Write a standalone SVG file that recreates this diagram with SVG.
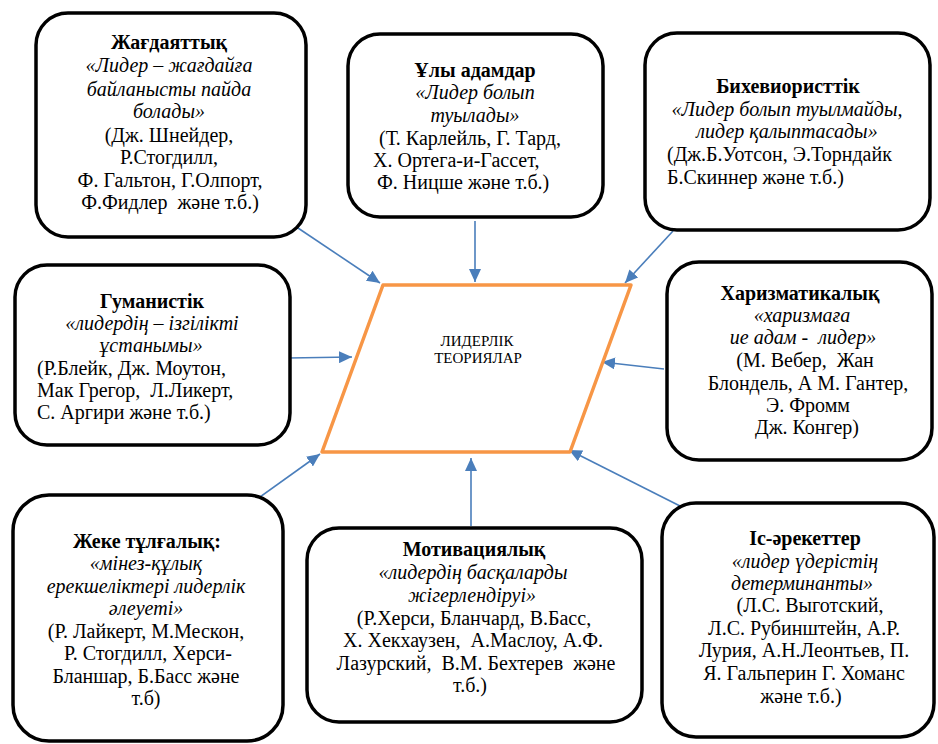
<svg xmlns="http://www.w3.org/2000/svg" width="938" height="744" viewBox="0 0 938 744">
<defs>
<style>
.box{fill:#fff;stroke:#000;stroke-width:3.5}
.b{font-weight:bold}
.i{font-style:italic}
.c{stroke:#4A7EBB;stroke-width:1.6;fill:none;marker-end:url(#ah)}
</style>
<marker id="ah" markerUnits="userSpaceOnUse" markerWidth="14" markerHeight="12" refX="13" refY="6" orient="auto">
<path d="M0,0 L13,6 L0,12 Z" fill="#4A7EBB"/>
</marker>
</defs>
<rect width="938" height="744" fill="#fff"/>

<g id="connectors">
<line class="c" x1="295" y1="226" x2="380" y2="283"/>
<line class="c" x1="475" y1="221" x2="475" y2="282"/>
<line class="c" x1="673" y1="231" x2="625" y2="283"/>
<line class="c" x1="288" y1="358" x2="352" y2="357"/>
<line class="c" x1="664" y1="369" x2="602" y2="362"/>
<line class="c" x1="253" y1="502" x2="320" y2="454"/>
<line class="c" x1="471" y1="526" x2="471" y2="458"/>
<line class="c" x1="682" y1="507" x2="569" y2="450"/>
</g>

<g id="center">
<polygon points="383,285 631,285 570,452 322,452" fill="#fff" stroke="#F79646" stroke-width="3.5" stroke-linejoin="round"/>
<text x="477" y="346" style="font-family:'Liberation Serif',serif;font-size:15px" text-anchor="middle">ЛИДЕРЛІК</text>
<text x="478" y="363" style="font-family:'Liberation Serif',serif;font-size:15px" text-anchor="middle">ТЕОРИЯЛАР</text>
</g>

<g id="n1">
<rect class="box" x="36" y="13" width="270" height="224" rx="32"/>
<text class="b" x="169" y="49" style="font-family:'Liberation Serif',serif;font-size:20px" text-anchor="middle">Жағдаяттық</text>
<text class="i" x="169" y="72" style="font-family:'Liberation Serif',serif;font-size:20px" text-anchor="middle">«Лидер – жағдайға</text>
<text class="i" x="169" y="96" style="font-family:'Liberation Serif',serif;font-size:20px" text-anchor="middle">байланысты пайда</text>
<text class="i" x="169" y="118" style="font-family:'Liberation Serif',serif;font-size:20px" text-anchor="middle">болады»</text>
<text x="169" y="142" style="font-family:'Liberation Serif',serif;font-size:20px" text-anchor="middle">(Дж. Шнейдер,</text>
<text x="169" y="164" style="font-family:'Liberation Serif',serif;font-size:20px" text-anchor="middle">Р.Стогдилл,</text>
<text x="170" y="187" style="font-family:'Liberation Serif',serif;font-size:20px" text-anchor="middle">Ф. Гальтон, Г.Олпорт,</text>
<text x="170" y="209" style="font-family:'Liberation Serif',serif;font-size:20px" text-anchor="middle">Ф.Фидлер&#160; және т.б.)</text>
</g>

<g id="n2">
<rect class="box" x="348" y="34" width="255" height="183" rx="32"/>
<text class="b" x="475" y="77" style="font-family:'Liberation Serif',serif;font-size:20px" text-anchor="middle">Ұлы адамдар</text>
<text class="i" x="475" y="99" style="font-family:'Liberation Serif',serif;font-size:20px" text-anchor="middle">«Лидер болып</text>
<text class="i" x="475" y="122" style="font-family:'Liberation Serif',serif;font-size:20px" text-anchor="middle">туылады»</text>
<text x="470" y="145" style="font-family:'Liberation Serif',serif;font-size:20px" text-anchor="middle">(Т. Карлейль, Г. Тард,</text>
<text x="373" y="167" style="font-family:'Liberation Serif',serif;font-size:20px">Х. Ортега-и-Гассет,</text>
<text x="377" y="189" style="font-family:'Liberation Serif',serif;font-size:20px">Ф. Ницше және т.б.)</text>
</g>

<g id="n3">
<rect class="box" x="645" y="33" width="285" height="197" rx="32"/>
<text class="b" x="788" y="93" style="font-family:'Liberation Serif',serif;font-size:20px" text-anchor="middle">Бихевиористтік</text>
<text class="i" x="787" y="116" style="font-family:'Liberation Serif',serif;font-size:20px" text-anchor="middle">«Лидер болып туылмайды,</text>
<text class="i" x="787" y="138" style="font-family:'Liberation Serif',serif;font-size:20px" text-anchor="middle">лидер қалыптасады»</text>
<text x="667" y="161" style="font-family:'Liberation Serif',serif;font-size:20px">(Дж.Б.Уотсон, Э.Торндайк</text>
<text x="667" y="184" style="font-family:'Liberation Serif',serif;font-size:20px">Б.Скиннер және т.б.)</text>
</g>

<g id="n4">
<rect class="box" x="15" y="265" width="275" height="180" rx="32"/>
<text class="b" x="152" y="308" style="font-family:'Liberation Serif',serif;font-size:20px" text-anchor="middle">Гуманистік</text>
<text class="i" x="152" y="330" style="font-family:'Liberation Serif',serif;font-size:20px" text-anchor="middle">«лидердің – ізгілікті</text>
<text class="i" x="151" y="352" style="font-family:'Liberation Serif',serif;font-size:20px" text-anchor="middle">ұстанымы»</text>
<text x="37" y="375" style="font-family:'Liberation Serif',serif;font-size:20px">(Р.Блейк, Дж. Моутон,</text>
<text x="37" y="397" style="font-family:'Liberation Serif',serif;font-size:20px">Мак Грегор,&#160; Л.Ликерт,</text>
<text x="37" y="419" style="font-family:'Liberation Serif',serif;font-size:20px">С. Аргири және т.б.)</text>
</g>

<g id="n5">
<rect class="box" x="667" y="262" width="265" height="198" rx="32"/>
<text class="b" x="800" y="300" style="font-family:'Liberation Serif',serif;font-size:20px" text-anchor="middle">Харизматикалық</text>
<text class="i" x="802" y="322" style="font-family:'Liberation Serif',serif;font-size:20px" text-anchor="middle">«харизмаға</text>
<text class="i" x="803" y="344" style="font-family:'Liberation Serif',serif;font-size:20px" text-anchor="middle">ие адам -&#160; лидер»</text>
<text x="805" y="367" style="font-family:'Liberation Serif',serif;font-size:20px" text-anchor="middle">(М. Вебер,&#160; Жан</text>
<text x="808" y="390" style="font-family:'Liberation Serif',serif;font-size:20px" text-anchor="middle">Блондель, А М. Гантер,</text>
<text x="808" y="412" style="font-family:'Liberation Serif',serif;font-size:20px" text-anchor="middle">Э. Фромм</text>
<text x="807" y="434" style="font-family:'Liberation Serif',serif;font-size:20px" text-anchor="middle">Дж. Конгер)</text>
</g>

<g id="n6">
<rect class="box" x="13" y="495" width="270" height="246" rx="36"/>
<text class="b" x="147" y="548" style="font-family:'Liberation Serif',serif;font-size:20px" text-anchor="middle">Жеке тұлғалық:</text>
<text class="i" x="146" y="570" style="font-family:'Liberation Serif',serif;font-size:20px" text-anchor="middle">«мінез-құлық</text>
<text class="i" x="146" y="593" style="font-family:'Liberation Serif',serif;font-size:20px" text-anchor="middle">ерекшеліктері лидерлік</text>
<text class="i" x="146" y="615" style="font-family:'Liberation Serif',serif;font-size:20px" text-anchor="middle">әлеуеті»</text>
<text x="146" y="638" style="font-family:'Liberation Serif',serif;font-size:20px" text-anchor="middle">(Р. Лайкерт, М.Мескон,</text>
<text x="148" y="660" style="font-family:'Liberation Serif',serif;font-size:20px" text-anchor="middle">Р. Стогдилл, Херси-</text>
<text x="146" y="683" style="font-family:'Liberation Serif',serif;font-size:20px" text-anchor="middle">Бланшар, Б.Басс және</text>
<text x="146" y="705" style="font-family:'Liberation Serif',serif;font-size:20px" text-anchor="middle">т.б)</text>
</g>

<g id="n7">
<rect class="box" x="307" y="528" width="335" height="194" rx="32"/>
<text class="b" x="474" y="556" style="font-family:'Liberation Serif',serif;font-size:20px" text-anchor="middle">Мотивациялық</text>
<text class="i" x="473" y="579" style="font-family:'Liberation Serif',serif;font-size:20px" text-anchor="middle">«лидердің басқаларды</text>
<text class="i" x="472" y="602" style="font-family:'Liberation Serif',serif;font-size:20px" text-anchor="middle">жігерлендіруі»</text>
<text x="474" y="625" style="font-family:'Liberation Serif',serif;font-size:20px" text-anchor="middle">(Р.Херси, Бланчард, В.Басс,</text>
<text x="473" y="647" style="font-family:'Liberation Serif',serif;font-size:20px" text-anchor="middle">Х. Хекхаузен,&#160; А.Маслоу, А.Ф.</text>
<text x="476" y="670" style="font-family:'Liberation Serif',serif;font-size:20px" text-anchor="middle">Лазурский,&#160; В.М. Бехтерев&#160; және</text>
<text x="470" y="692" style="font-family:'Liberation Serif',serif;font-size:20px" text-anchor="middle">т.б.)</text>
</g>

<g id="n8">
<rect class="box" x="662" y="503" width="272" height="234" rx="34"/>
<text class="b" x="805" y="545" style="font-family:'Liberation Serif',serif;font-size:20px" text-anchor="middle">Іс-әрекеттер</text>
<text class="i" x="805" y="568" style="font-family:'Liberation Serif',serif;font-size:20px" text-anchor="middle">«лидер үдерістің</text>
<text class="i" x="802" y="590" style="font-family:'Liberation Serif',serif;font-size:20px" text-anchor="middle">детерминанты»</text>
<text x="810" y="612" style="font-family:'Liberation Serif',serif;font-size:20px" text-anchor="middle">(Л.С. Выготский,</text>
<text x="804" y="635" style="font-family:'Liberation Serif',serif;font-size:20px" text-anchor="middle">Л.С. Рубинштейн, А.Р.</text>
<text x="804" y="657" style="font-family:'Liberation Serif',serif;font-size:20px" text-anchor="middle">Лурия, А.Н.Леонтьев, П.</text>
<text x="804" y="680" style="font-family:'Liberation Serif',serif;font-size:20px" text-anchor="middle">Я. Гальперин Г. Хоманс</text>
<text x="801" y="703" style="font-family:'Liberation Serif',serif;font-size:20px" text-anchor="middle">және т.б.)</text>
</g>
</svg>
